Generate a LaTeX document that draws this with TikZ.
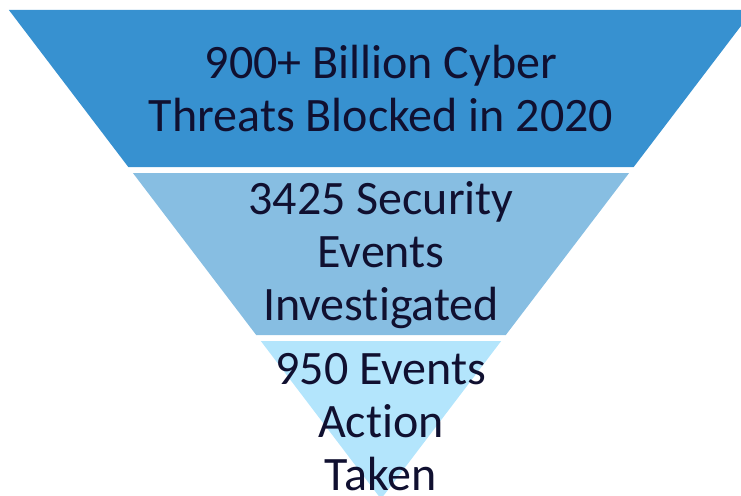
\documentclass[tikz,border=0pt]{standalone}
\usepackage{fontspec}
\setmainfont{Carlito}[Ligatures={TeX,NoCommon}]
\usetikzlibrary{calc}

\definecolor{topblue}{RGB}{55,145,208}
\definecolor{midblue}{RGB}{135,190,226}
\definecolor{lowblue}{RGB}{179,229,252}
\definecolor{inkblue}{RGB}{16,16,48}

\tikzset{
  funnel/.style={draw=none},
  lbl/.style={text=inkblue, align=center, anchor=base, inner sep=0pt,
    font=\fontsize{48}{53}\selectfont}
}

\begin{document}
\begin{tikzpicture}[x=1pt, y=-1pt]

\clip (0,0) rectangle (741,495);

% funnel, three slices with white gaps
\fill[funnel, topblue] (8.9,10) -- (753.1,10) -- (633.7,167) -- (128.3,167) -- cycle;
\fill[funnel, midblue] (132.9,173) -- (629.1,173) -- (505.8,335) -- (256.2,335) -- cycle;
\fill[funnel, lowblue] (260.8,341) -- (501.2,341) -- (381,499) -- cycle;

% labels, placed at the baseline of their last line
\node[lbl] (threats) at (381,131) {900+ Billion Cyber\\Threats Blocked in 2020};
\node[lbl] (events) at (381,320) {3425 Security\\Events\\Investigated};
\node[lbl] (action) at (381,490) {950 Events\\Action\\Taken};

\end{tikzpicture}
\end{document}
